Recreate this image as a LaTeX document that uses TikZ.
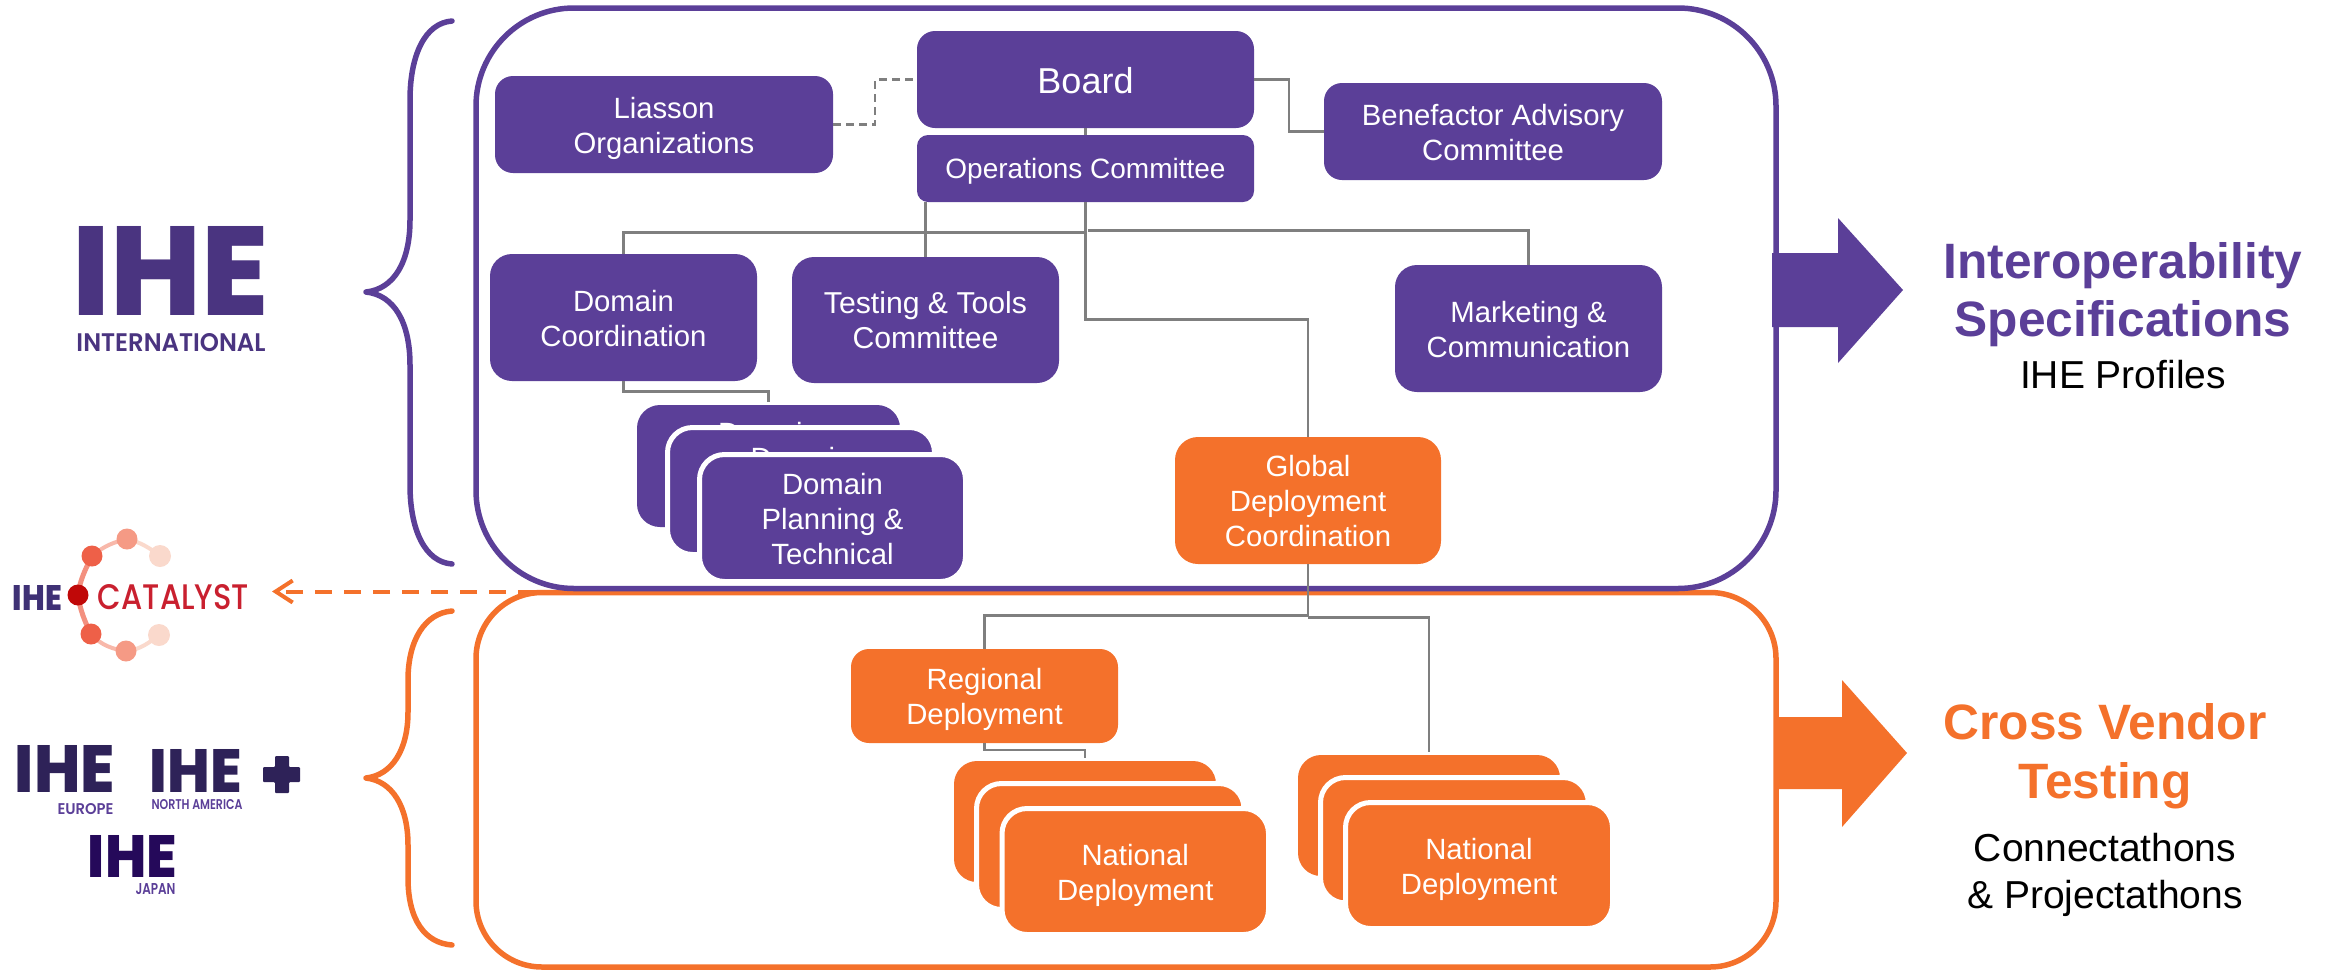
\documentclass[tikz,border=0pt]{standalone}
\usepackage{fontspec}
\setmainfont{Liberation Sans}
\newfontfamily\logofont[BoldFont={Poppins ExtraBold}]{Poppins Medium}
\newfontfamily\logosemi{Poppins SemiBold}
\usetikzlibrary{arrows.meta}
\definecolor{ihepurple}{HTML}{5B3F98}
\definecolor{iheorange}{HTML}{F4712B}
\definecolor{conngray}{HTML}{7F7F7F}
\definecolor{logoA}{HTML}{4A3480}
\definecolor{logoB}{HTML}{2E2258}
\definecolor{logoC}{HTML}{25095A}
\definecolor{logoD}{HTML}{3F3175}
\definecolor{catred}{HTML}{C9202F}
\definecolor{dotA}{HTML}{C00808}
\definecolor{dotB}{HTML}{EE6048}
\definecolor{dotC}{HTML}{F59A85}
\definecolor{dotD}{HTML}{FAD9CC}
\newcommand{\logotxt}[3]{\resizebox{#1pt}{#2pt}{\logofont\bfseries #3}}
\newcommand{\logosub}[3]{\resizebox{#1pt}{#2pt}{\logosemi #3}}
\newcommand{\logocat}[3]{\resizebox{#1pt}{#2pt}{\logofont #3}}
\newcommand{\firstl}{\rule{0pt}{30pt}}
\newcommand{\lastl}{\rule[-8pt]{0pt}{8pt}}
\tikzset{
  x=1pt,y=-1pt,
  boxbase/.style={rectangle,inner sep=0pt,outer sep=0pt,align=center,text=white,
    font=\fontsize{29.3}{35}\selectfont},
  pbox/.style={boxbase,fill=ihepurple},
  obox/.style={boxbase,fill=iheorange},
  stackp/.style={pbox,draw=white,line width=5pt},
  stacko/.style={obox,draw=white,line width=5pt},
  conn/.style={draw=conngray,line width=2.5pt},
  dashconn/.style={conn,dash pattern=on 8pt off 5pt},
  frame/.style={line width=5.5pt},
  brace/.style={line width=5.5pt,line cap=round,line join=round},
  logo/.style={inner sep=0pt,outer sep=0pt},
  dot/.style={circle,inner sep=0pt,outer sep=0pt,minimum size=21pt},
  headtext/.style={inner sep=0pt,outer sep=0pt,align=center,anchor=base,
    font=\fontsize{49.7}{59}\selectfont\bfseries},
  subtext/.style={inner sep=0pt,outer sep=0pt,align=center,anchor=base,text=black,
    font=\fontsize{39}{48}\selectfont},
}
\begin{document}
\begin{tikzpicture}
\useasboundingbox (0,0) rectangle (2333,970);
% containers
\draw[frame,draw=iheorange,rounded corners=66pt] (476,592.5) rectangle (1776,967);
\draw[frame,draw=ihepurple,rounded corners=98pt] (476,8) rectangle (1776,588.5);
% right arrows
\fill[iheorange] (1775,717) -- (1842,717) -- (1842,680) -- (1907,753) -- (1842,827) -- (1842,789) -- (1775,789) -- cycle;
\fill[ihepurple] (1772,253) -- (1838,253) -- (1838,218) -- (1903,290) -- (1838,363) -- (1838,327) -- (1772,327) -- cycle;
% braces
\draw[brace,ihepurple] (452,21) .. controls (425,23) and (410,55) .. (410,100) -- (410,220)
  .. controls (410,262) and (394,289) .. (366,292) .. controls (394,295) and (410,322) .. (410,365)
  -- (410,485) .. controls (410,530) and (425,562) .. (452,564);
\draw[brace,iheorange] (452,611) .. controls (425,613) and (408,640) .. (408,680) -- (408,712)
  .. controls (408,750) and (392,775) .. (366,778) .. controls (392,781) and (408,806) .. (408,845)
  -- (408,878) .. controls (408,920) and (425,943) .. (452,945);
% boxes
\node[pbox,minimum width=338pt,minimum height=97pt,rounded corners=18pt] (liasson) at (664,124.5) {\firstl Liasson\\Organizations\lastl};
\node[pbox,minimum width=337pt,minimum height=97pt,rounded corners=18pt,font=\fontsize{36}{42}\selectfont] (board) at (1085.5,79.5) {\rule{0pt}{35pt}Board\lastl};
\node[pbox,minimum width=337pt,minimum height=67pt,rounded corners=11pt,font=\fontsize{28}{35}\selectfont] (ops) at (1085.5,168.5) {\rule{0pt}{27pt}Operations Committee\lastl};
\node[pbox,minimum width=338pt,minimum height=97pt,rounded corners=18pt] (benef) at (1493,131.5) {\firstl Benefactor Advisory\\Committee\lastl};
\node[pbox,minimum width=267pt,minimum height=127pt,rounded corners=22pt] (dcoord) at (623.5,317.5) {\firstl Domain\\Coordination\lastl};
\node[pbox,minimum width=267pt,minimum height=126pt,rounded corners=22pt,font=\fontsize{30.2}{35}\selectfont] (testing) at (925.5,320) {\firstl Testing \& Tools\\Committee\lastl};
\node[pbox,minimum width=267pt,minimum height=127pt,rounded corners=22pt] (market) at (1528.5,328.5) {\firstl Marketing \&\\Communication\lastl};
\node[obox,minimum width=266pt,minimum height=127pt,rounded corners=23pt] (global) at (1308,500.5) {\firstl Global\\Deployment\\Coordination\lastl};
\node[obox,minimum width=267pt,minimum height=94pt,rounded corners=18pt] (regional) at (984.5,696) {\firstl Regional\\Deployment\lastl};
% domain stack
\node[pbox,minimum width=263pt,minimum height=122pt,rounded corners=23pt] (dstacka) at (768.5,466) {};
\node[boxbase,anchor=base] (dtexta) at (768.5,443) {Domain};
\node[stackp,minimum width=267pt,minimum height=127pt,rounded corners=25pt] (dstackb) at (801,491) {};
\node[boxbase,anchor=base] (dtextb) at (801,468) {Domain};
\node[stackp,minimum width=266pt,minimum height=127pt,rounded corners=25pt] (dstackc) at (832.5,518) {\firstl Domain\\Planning \&\\Technical\lastl};
% national stack left
\node[obox,minimum width=262pt,minimum height=121pt,rounded corners=23pt] (nla) at (1085,821.5) {};
\node[stacko,minimum width=267.5pt,minimum height=126pt,rounded corners=25pt] (nlb) at (1110.25,846.5) {};
\node[stacko,minimum width=266.5pt,minimum height=126pt,rounded corners=25pt] (nlc) at (1135.25,871.5) {\firstl National\\Deployment\lastl};
% national stack right
\node[obox,minimum width=262pt,minimum height=121pt,rounded corners=23pt] (nra) at (1429,815.5) {};
\node[stacko,minimum width=267.7pt,minimum height=125.5pt,rounded corners=25pt] (nrb) at (1454.35,840.25) {};
\node[stacko,minimum width=267pt,minimum height=126pt,rounded corners=25pt] (nrc) at (1479,865.5) {\firstl National\\Deployment\lastl};
% connectors
\coordinate (jdom) at (1085.5,232.7);
\coordinate (jmark) at (1088,230.7);
\coordinate (jglob) at (1308,319.7);
\coordinate (jreg) at (1308,615.7);
\coordinate (jnat) at (1308,617.5);
\coordinate (lmid) at (875,102);
\coordinate (bmid) at (1289,105);
\coordinate (jdst) at (623.5,391.7);
\coordinate (jrst) at (984.5,750);
\coordinate (dtop) at (768.5,402);
\coordinate (nltop) at (1085,758);
\coordinate (nrtop) at (1429,752);
\draw[conn] (board.south) -- (ops.north);
\draw[dashconn] (liasson.east) -| (lmid) |- (board.west);
\draw[conn] (board.east) -| (bmid) |- (benef.west);
\draw[conn] (ops.south) -- (jdom) -| (dcoord.north);
\draw[conn] (ops.south -| testing.north) -- (testing.north);
\draw[conn] (jmark) -| (market.north);
\draw[conn] (ops.south) |- (jglob) -- (global.north);
\draw[conn] (dcoord.south) -- (jdst) -| (dtop);
\draw[conn] (global.south) -- (jreg) -| (regional.north);
\draw[conn] (jnat) -| (nrtop);
\draw[conn] (regional.south) -- (jrst) -| (nltop);
% titles
\node[headtext,text=ihepurple] (t1) at (2123,278) {Interoperability};
\node[headtext,text=ihepurple] (t2) at (2123,336.5) {Specifications};
\node[subtext] (t3) at (2123,388) {IHE Profiles};
\node[headtext,text=iheorange] (t4) at (2105,739) {Cross Vendor};
\node[headtext,text=iheorange] (t5) at (2105,798) {Testing};
\node[subtext] (t6) at (2105,861) {Connectathons};
\node[subtext] (t7) at (2105,908) {\& Projectathons};
% IHE International logo
\node[logo,text=logoA] (lintl) at (171,271) {\logotxt{196}{89}{IHE}};
\node[logo,text=logoA] (lintls) at (171,343) {\logosub{189}{18}{INTERNATIONAL}};
% Catalyst logo
\coordinate (catstart) at (535,591.5);
\coordinate (cattip) at (272,591.5);
\draw[dotC!70,line width=4pt] (92,556) .. controls (105,545) and (115,542) .. (127,539);
\draw[dotD,line width=4pt] (127,539) .. controls (140,542) and (150,548) .. (160,556);
\draw[dotB!70,line width=5pt] (92,556) .. controls (85,570) and (80,580) .. (78,595);
\draw[dotB!70,line width=5pt] (78,595) .. controls (80,610) and (85,622) .. (91,634);
\draw[dotC!70,line width=4pt] (91,634) .. controls (100,645) and (115,650) .. (126,651);
\draw[dotD,line width=4pt] (126,651) .. controls (140,650) and (150,642) .. (159,635);
\node[dot,fill=dotB] (d1) at (92,556) {};
\node[dot,fill=dotC] (d2) at (127,539) {};
\node[dot,fill=dotD,minimum size=22pt] (d3) at (160,556) {};
\node[dot,fill=dotB] (d4) at (91,634) {};
\node[dot,fill=dotC] (d5) at (126,651) {};
\node[dot,fill=dotD,minimum size=22pt] (d6) at (159,635) {};
\node[dot,fill=dotA] (d0) at (78,595) {};
\node[logo,text=logoD] (lcat1) at (37.5,597.5) {\logotxt{49}{25}{IHE}};
\node[logo,text=catred] (lcat2) at (173.5,597.5) {\logocat{151}{25}{CATALYST}};
\draw[draw=iheorange,line width=4pt,dash pattern=on 17pt off 12pt,-{Straight Barb[length=17pt,width=22pt]}] (catstart) -- (cattip);
% regional logos
\node[logo,text=logoB] (leu) at (65,768.5) {\logotxt{100}{47}{IHE}};
\node[logo,text=ihepurple] (leus) at (85.5,809.5) {\logosub{56}{11}{EUROPE}};
\node[logo,text=logoB] (lna) at (196,770.5) {\logotxt{92}{43}{IHE}};
\node[logo,text=ihepurple] (lnas) at (197,805) {\logosub{91}{10}{NORTH AMERICA}};
\fill[logoB,rounded corners=1pt] (275,756) -- (289,756) -- (289,767) -- (300,767) -- (300,782) -- (289,782) -- (289,793) -- (275,793) -- (275,782) -- (263,782) -- (263,767) -- (275,767) -- cycle;
\node[logo,text=logoC] (ljp) at (132.5,856) {\logotxt{89}{42}{IHE}};
\node[logo,text=ihepurple] (ljps) at (155.5,889.5) {\logosub{40}{11}{JAPAN}};
\end{tikzpicture}
\end{document}
